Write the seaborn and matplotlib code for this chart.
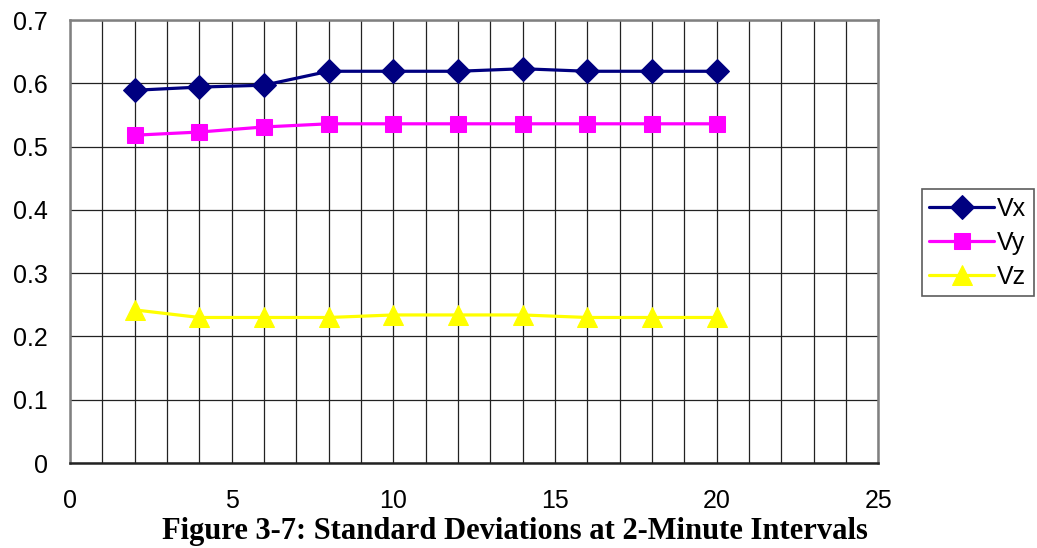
import matplotlib
matplotlib.use("Agg")
import matplotlib.pyplot as plt
import seaborn as sns
import pandas as pd

# Interval end times (minutes) and standard deviations per velocity component
minutes = [2, 4, 6, 8, 10, 12, 14, 16, 18, 20]
vx = [0.589, 0.594, 0.597, 0.619, 0.619, 0.619, 0.623, 0.619, 0.619, 0.619]
vy = [0.518, 0.523, 0.531, 0.536, 0.536, 0.536, 0.536, 0.536, 0.536, 0.536]
vz = [0.242, 0.230, 0.230, 0.230, 0.234, 0.234, 0.234, 0.230, 0.230, 0.230]

series_names = ["Vx", "Vy", "Vz"]
x_ticks = [0, 5, 10, 15, 20, 25]
y_ticks = [0, 0.1, 0.2, 0.3, 0.4, 0.5, 0.6, 0.7]
title = "Figure 3-7: Standard Deviations at 2-Minute Intervals"

sns.set_theme(style="white")
plt.rcParams["font.family"] = ["Liberation Sans", "DejaVu Sans"]
plt.rcParams["text.color"] = "black"

df = pd.DataFrame({
    "minutes": minutes * 3,
    "sd": vx + vy + vz,
    "component": sum([[n] * len(minutes) for n in series_names], []),
})

fig = plt.figure(figsize=(10.37, 5.48), dpi=100)
ax = fig.add_axes([0.0675, 0.155, 0.7795, 0.8085])

styles = {
    "Vx": dict(color="#000080", marker="D", markersize=12),
    "Vy": dict(color="#FF00FF", marker="s", markersize=12),
    "Vz": dict(color="#FFFF00", marker="^", markersize=14),
}
for name in series_names:
    sub = df[df["component"] == name]
    st = styles[name]
    sns.lineplot(data=sub, x="minutes", y="sd", ax=ax, label=name,
                 color=st["color"], marker=st["marker"],
                 markersize=st["markersize"], markeredgecolor=st["color"],
                 linewidth=2.3, zorder=3)

ax.set_xlim(0, 25)
ax.set_ylim(0, 0.7)
ax.set_xticks(x_ticks)
ax.set_yticks(y_ticks)
ax.set_yticklabels(["0" if v == 0 else f"{v:.1f}" for v in y_ticks])
ax.set_xticks(range(0, 26), minor=True)
ax.grid(which="both", axis="x", color="#222222", linewidth=0.9)
ax.grid(which="major", axis="y", color="#222222", linewidth=0.9)
ax.set_axisbelow(True)
for sp in ax.spines.values():
    sp.set_color("#808080")
    sp.set_linewidth(1.8)
ax.spines["bottom"].set_color("#222222")
ax.tick_params(axis="both", which="major", direction="out", length=6,
               width=1.2, color="#444444", labelsize=18, labelcolor="black")
ax.tick_params(axis="x", which="minor", length=0)
ax.tick_params(axis="x", pad=13)
ax.tick_params(axis="y", pad=10)
ax.set_xlabel("")
ax.set_ylabel("")

leg = ax.legend(loc="upper left", bbox_to_anchor=(0.889, 0.655),
                bbox_transform=fig.transFigure, frameon=True, fancybox=False,
                fontsize=18, handlelength=2.6, borderpad=0.3,
                labelspacing=0.4, handletextpad=0.1, borderaxespad=0)
leg.get_frame().set_edgecolor("#333333")
leg.get_frame().set_linewidth(1.2)
for t in leg.get_texts():
    t.set_color("black")

fig.text(0.497, 0.0165, title, ha="center", va="baseline", fontsize=22,
         fontweight="bold", color="black",
         family=["Liberation Serif", "DejaVu Serif"])

fig.savefig("out.png", dpi=100)
